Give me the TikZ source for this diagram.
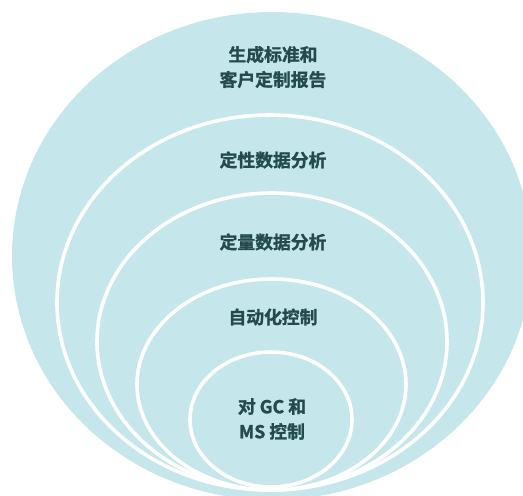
\documentclass[tikz,border=0pt]{standalone}
\usepackage{fontspec}
\newfontfamily\cjk{Noto Sans CJK SC}[BoldFont={Noto Sans CJK SC Bold},BoldFeatures={FakeBold=1.3}]
\definecolor{ringfill}{HTML}{C5E6EA}
\definecolor{labeltext}{HTML}{244A4E}
\begin{document}
\begin{tikzpicture}[x=1pt,y=1pt,
  ring/.style={fill=ringfill,draw=white,line width=3.6pt},
  outerring/.style={fill=ringfill,draw=none},
  lbl/.style={text=labeltext,font=\cjk\bfseries\fontsize{17.8}{25}\selectfont,align=center,inner sep=0pt}]
\useasboundingbox (0,0) rectangle (523,-496);
\clip (0,0) rectangle (523,-496);
\fill[outerring] (272,-256) ellipse [x radius=260, y radius=244];
\draw[ring] (270,-302.5) ellipse [x radius=213, y radius=187.5];
\draw[ring] (272,-341.5) ellipse [x radius=175, y radius=148.5];
\draw[ring] (271.5,-384.5) ellipse [x radius=134.5, y radius=105.5];
\draw[ring] (271,-419.5) ellipse [x radius=81, y radius=67.5];
\node[lbl] (l1) at (273,-67) {生成标准和\\客户定制报告};
\node[lbl] (l2) at (273,-160) {定性数据分析};
\node[lbl] (l3) at (273,-242) {定量数据分析};
\node[lbl] (l4) at (273,-317) {自动化控制};
\node[lbl] (l5) at (272,-419) {对 GC 和\\MS 控制};
\end{tikzpicture}
\end{document}
